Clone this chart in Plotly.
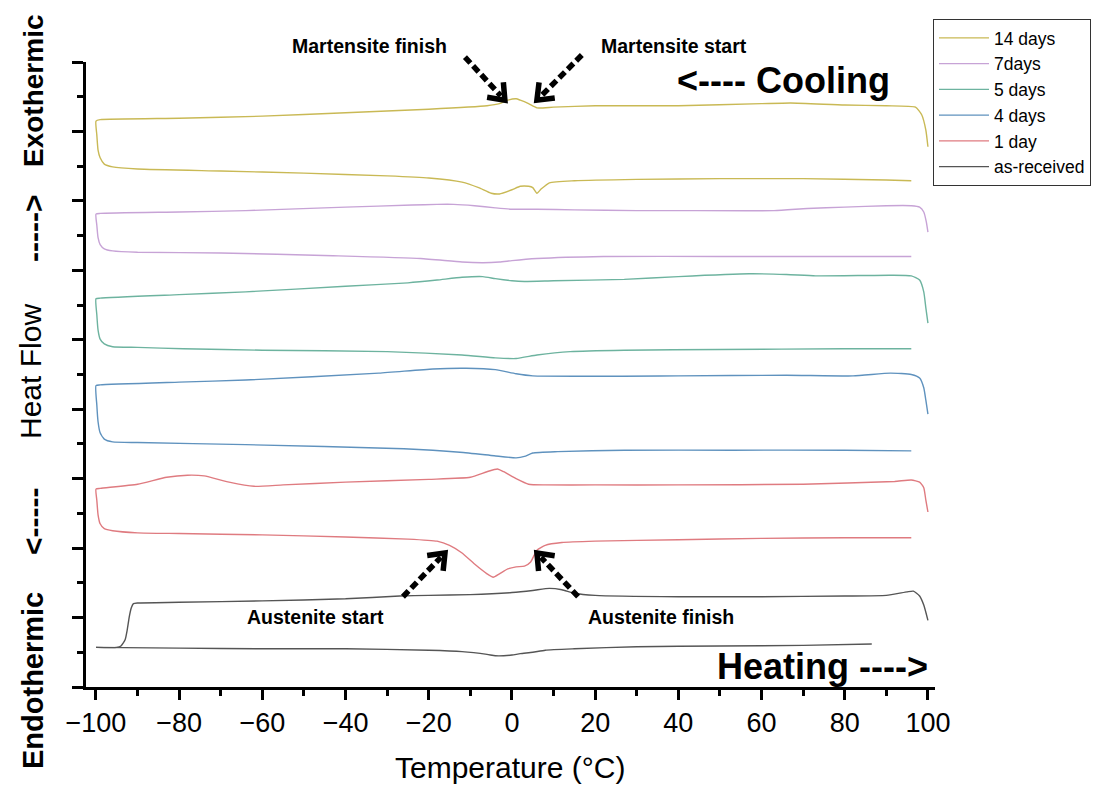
import math
import plotly.graph_objects as go

# ---------------- data (temperature in °C, heat flow in arbitrary offset units) ----------------
# 14 days
t_14d_cool = [100, 99.5, 98.5, 97, 90, 80, 67, 60, 40, 20, 10, 6, 4, 2, 1, -1, -3, -6, -20, -40, -60, -80, -99, -100]
hf_14d_cool = [7.78, 8.02, 8.24, 8.35, 8.37, 8.38, 8.41, 8.40, 8.37, 8.37, 8.35, 8.34, 8.40, 8.45, 8.47, 8.45, 8.40, 8.37, 8.32, 8.27, 8.22, 8.19, 8.17, 8.15]
t_14d_heat = [-99.8, -99.5, -99, -98, -96, -90, -70, -50, -30, -20, -12, -8, -5, -3, 0, 2, 4, 5, 6, 7, 9, 15, 30, 50, 70, 90, 96]
hf_14d_heat = [7.95, 7.73, 7.62, 7.53, 7.49, 7.46, 7.43, 7.40, 7.36, 7.33, 7.27, 7.19, 7.11, 7.10, 7.16, 7.21, 7.21, 7.19, 7.11, 7.17, 7.26, 7.29, 7.31, 7.32, 7.32, 7.30, 7.29]

# 7 days
t_7d_cool = [100, 99.6, 99, 98, 96, 90, 80, 71, 63, 40, 30, 15, 6, 0, -4, -9, -14, -18, -24, -40, -64, -80, -99, -100]
hf_7d_cool = [6.55, 6.70, 6.84, 6.91, 6.93, 6.93, 6.91, 6.89, 6.86, 6.86, 6.86, 6.87, 6.88, 6.88, 6.90, 6.93, 6.95, 6.95, 6.94, 6.91, 6.86, 6.84, 6.82, 6.81]
t_7d_heat = [-99.8, -99.5, -99, -98, -96, -90, -70, -43, -22, -12, -7, -3, 0, 6, 22, 50, 80, 96]
hf_7d_heat = [6.65, 6.47, 6.37, 6.31, 6.28, 6.26, 6.25, 6.21, 6.17, 6.12, 6.11, 6.12, 6.14, 6.17, 6.20, 6.20, 6.20, 6.20]

# 5 days
t_5d_cool = [100, 99.5, 99, 98, 96, 91, 73, 66, 57, 40, 27, 10, 3, 0, -4, -7, -12, -18, -25, -40, -64, -80, -99, -100]
hf_5d_cool = [5.24, 5.46, 5.69, 5.86, 5.92, 5.93, 5.92, 5.94, 5.95, 5.91, 5.87, 5.85, 5.84, 5.85, 5.88, 5.91, 5.90, 5.86, 5.82, 5.77, 5.69, 5.65, 5.60, 5.59]
t_5d_heat = [-99.8, -99.5, -99, -98, -96, -90, -79, -60, -30, -12, -4, 1, 6, 14, 27, 50, 80, 96]
hf_5d_heat = [5.36, 5.14, 5.01, 4.94, 4.90, 4.89, 4.87, 4.85, 4.83, 4.78, 4.74, 4.73, 4.78, 4.83, 4.85, 4.86, 4.87, 4.87]

# 4 days
t_4d_cool = [100, 99.5, 99, 98, 96, 91, 82, 66, 40, 5, 1, -4, -11, -19, -32, -64, -80, -99, -100]
hf_4d_cool = [3.93, 4.13, 4.31, 4.45, 4.50, 4.52, 4.48, 4.49, 4.48, 4.48, 4.51, 4.57, 4.59, 4.58, 4.52, 4.42, 4.39, 4.35, 4.34]
t_4d_heat = [-99.8, -99.5, -99, -98, -96, -90, -64, -26, -12.5, -4.3, 1, 3, 5, 11, 27, 53, 80, 96]
hf_4d_heat = [4.06, 3.82, 3.66, 3.57, 3.53, 3.52, 3.49, 3.43, 3.38, 3.33, 3.30, 3.32, 3.37, 3.39, 3.41, 3.41, 3.41, 3.40]

# 1 day
t_1d_cool = [100, 99.5, 99, 98, 96, 92, 70, 40, 20, 8, 4, 1, -2, -3.5, -6, -10, -20, -40, -55, -62, -68, -74, -78, -83, -90, -99, -100]
hf_1d_cool = [2.52, 2.69, 2.87, 2.95, 2.98, 2.96, 2.92, 2.91, 2.91, 2.91, 2.92, 3.00, 3.10, 3.14, 3.10, 3.02, 2.99, 2.95, 2.91, 2.89, 2.95, 3.04, 3.05, 3.02, 2.92, 2.86, 2.85]
t_1d_heat = [-99.8, -99.5, -99, -98, -96, -90, -80, -60, -40, -25, -18, -15, -12, -9, -6, -4.5, -3, -1, 1, 3, 4.5, 6, 8, 12, 20, 40, 60, 80, 96]
hf_1d_heat = [2.69, 2.48, 2.35, 2.28, 2.25, 2.22, 2.21, 2.19, 2.16, 2.13, 2.10, 2.04, 1.93, 1.77, 1.63, 1.58, 1.63, 1.70, 1.73, 1.74, 1.80, 1.97, 2.04, 2.08, 2.10, 2.12, 2.14, 2.15, 2.15]

# as-received (two separate runs)
t_ar_cool = [86.5, 70, 50, 30, 15, 8, 5, 2, 0, -2, -4, -6, -12, -20, -40, -60, -80, -100]
hf_ar_cool = [0.62, 0.60, 0.59, 0.58, 0.55, 0.53, 0.50, 0.48, 0.46, 0.45, 0.45, 0.47, 0.51, 0.53, 0.55, 0.55, 0.56, 0.57]
t_ar_heat = [-100, -95, -94, -93, -92.5, -92, -91.5, -91, -90, -80, -60, -40, -27, -20, -10, 0, 5, 9, 12, 15, 20, 40, 60, 80, 90, 95, 96.5, 98, 99, 100]
hf_ar_heat = [0.57, 0.57, 0.59, 0.68, 0.82, 1.01, 1.14, 1.20, 1.21, 1.22, 1.24, 1.27, 1.31, 1.32, 1.33, 1.36, 1.39, 1.42, 1.40, 1.35, 1.32, 1.30, 1.30, 1.31, 1.32, 1.37, 1.38, 1.31, 1.18, 0.96]

series_names = ["14 days", "7days", "5 days", "4 days", "1 day", "as-received"]
series_colors = ["#c9b955", "#c7a3d6", "#6db39f", "#5f92be", "#df7b80", "#555555"]
series_runs = [
    [(t_14d_cool + t_14d_heat, hf_14d_cool + hf_14d_heat)],
    [(t_7d_cool + t_7d_heat, hf_7d_cool + hf_7d_heat)],
    [(t_5d_cool + t_5d_heat, hf_5d_cool + hf_5d_heat)],
    [(t_4d_cool + t_4d_heat, hf_4d_cool + hf_4d_heat)],
    [(t_1d_cool + t_1d_heat, hf_1d_cool + hf_1d_heat)],
    [(t_ar_heat, hf_ar_heat), (t_ar_cool, hf_ar_cool)],
]

x_ticks = list(range(-100, 101, 20))

# ---------------- layout geometry (page pixels; the page has an 8px body margin) ----------------
BODY = 8
FIG_W, FIG_H = 1093, 779
PL, PT, PR, PB = 86, 62, 935, 687          # plot area edges on the page
PW, PH = PR - PL, PB - PT
X_RANGE = [-102.4, 101.7]
Y_RANGE = [0, 9]

ARIAL = "Liberation Sans, Arial, sans-serif"


def to_px(t, v):
    x = PL + (t - X_RANGE[0]) / (X_RANGE[1] - X_RANGE[0]) * PW
    y = PB - (v - Y_RANGE[0]) / (Y_RANGE[1] - Y_RANGE[0]) * PH
    return x, y


def px_to_paper(x, y):
    return (x - PL) / PW, (PB - y) / PH


fig = go.Figure()
for name, runs, c in zip(series_names, series_runs, series_colors):
    for k, (t, hf) in enumerate(runs):
        fig.add_trace(go.Scatter(x=t, y=hf, mode="lines", name=name, legendgroup=name,
                                 showlegend=(k == 0),
                                 line=dict(color=c, width=1.4, shape="spline", smoothing=0.5),
                                 hoverinfo="skip"))

# ---------------- annotation arrows (dashed shaft + open chevron head) ----------------
arrows = [(-11.3, 9.07, -1.7, 8.45), (16.8, 9.10, 6.0, 8.45),
          (-26.2, 1.30, -16.1, 1.93), (15.9, 1.30, 6.0, 1.93)]
shapes = []
for t0, v0, t1, v1 in arrows:
    x0, y0 = to_px(t0, v0)
    x1, y1 = to_px(t1, v1)
    dx, dy = x1 - x0, y1 - y0
    L = math.hypot(dx, dy)
    ux, uy = dx / L, dy / L
    sx, sy = x1 - ux * 6, y1 - uy * 6
    p0 = px_to_paper(x0, y0)
    p1 = px_to_paper(sx, sy)
    shapes.append(dict(type="line", xref="paper", yref="paper", x0=p0[0], y0=p0[1], x1=p1[0], y1=p1[1],
                       line=dict(color="black", width=5.5, dash="8px,4px")))
    arms = []
    for ang in (math.radians(38), math.radians(-38)):
        bx = -(ux * math.cos(ang) - uy * math.sin(ang))
        by = -(ux * math.sin(ang) + uy * math.cos(ang))
        arms.append((x1 + bx * 18, y1 + by * 18))
    a = px_to_paper(*arms[0])
    tip = px_to_paper(x1, y1)
    b = px_to_paper(*arms[1])
    shapes.append(dict(type="path", xref="paper", yref="paper",
                       path=f"M{a[0]},{a[1]} L{tip[0]},{tip[1]} L{b[0]},{b[1]}",
                       line=dict(color="black", width=5.5)))

# ---------------- text annotations ----------------
def ann(text, px, py, size, family=ARIAL, angle=0):
    xp, yp = px_to_paper(px, py)
    return dict(text=text, x=xp, y=yp, xref="paper", yref="paper", showarrow=False,
                xanchor="center", yanchor="middle", textangle=angle,
                font=dict(size=size, family=family, color="black"))

annotations = [
    ann("<b>Martensite finish</b>", 369, 46, 19.5),
    ann("<b>Martensite start</b>", 674, 46, 19.5),
    ann("<b>Austenite start</b>", 315, 617, 19.5),
    ann("<b>Austenite finish</b>", 661, 617, 19.5),
    ann("<b><---- Cooling</b>", 783, 80, 36),
    ann("<b>Heating ----></b>", 822, 666, 36),
    ann("<b>Exothermic</b>", 33, 91, 28, angle=-90),
    ann("<b>-----></b>", 33, 229, 30, angle=-90),
    ann("Heat Flow", 30, 372, 30, angle=-90),
    ann("<b><-----</b>", 33, 522, 30, angle=-90),
    ann("<b>Endothermic</b>", 33, 681, 29, angle=-90),
    ann("Temperature (°C)", 510, 767, 30),
]

lx, ly = px_to_paper(933, 19)
fig.update_layout(
    width=FIG_W, height=FIG_H,
    margin=dict(l=PL - BODY, r=FIG_W - (PR - BODY), t=PT - BODY, b=FIG_H - (PB - BODY),
                pad=0, autoexpand=False),
    paper_bgcolor="white", plot_bgcolor="white",
    showlegend=True,
    legend=dict(x=lx, y=ly, xanchor="left", yanchor="top",
                bgcolor="white", bordercolor="#333333", borderwidth=1, itemwidth=50,
                font=dict(size=17.5, family=ARIAL, color="black"), traceorder="normal"),
    shapes=shapes,
    annotations=annotations,
    hovermode=False,
)
fig.update_xaxes(range=X_RANGE, showline=True, linecolor="black", linewidth=3, mirror=False,
                 ticks="outside", ticklen=10, tickwidth=2.5, tickcolor="black",
                 tickmode="array", tickvals=x_ticks,
                 ticktext=[str(v) if v >= 0 else "\u2212" + str(-v) for v in x_ticks],
                 tickfont=dict(size=27, family=ARIAL, color="black"),
                 minor=dict(ticks="outside", tickmode="linear", tick0=-90, dtick=20, ticklen=6,
                            tickwidth=2.5, tickcolor="black"),
                 showgrid=False, zeroline=False, automargin=False)
fig.update_yaxes(range=Y_RANGE, showline=True, linecolor="black", linewidth=3,
                 ticks="outside", ticklen=11, tickwidth=2.5, tickcolor="black",
                 tickmode="linear", tick0=0, dtick=1, showticklabels=False,
                 minor=dict(ticks="outside", tickmode="linear", tick0=0.5, dtick=1, ticklen=6,
                            tickwidth=2.5, tickcolor="black"),
                 showgrid=False, zeroline=False, automargin=False)

fig.write_html("out.html")
